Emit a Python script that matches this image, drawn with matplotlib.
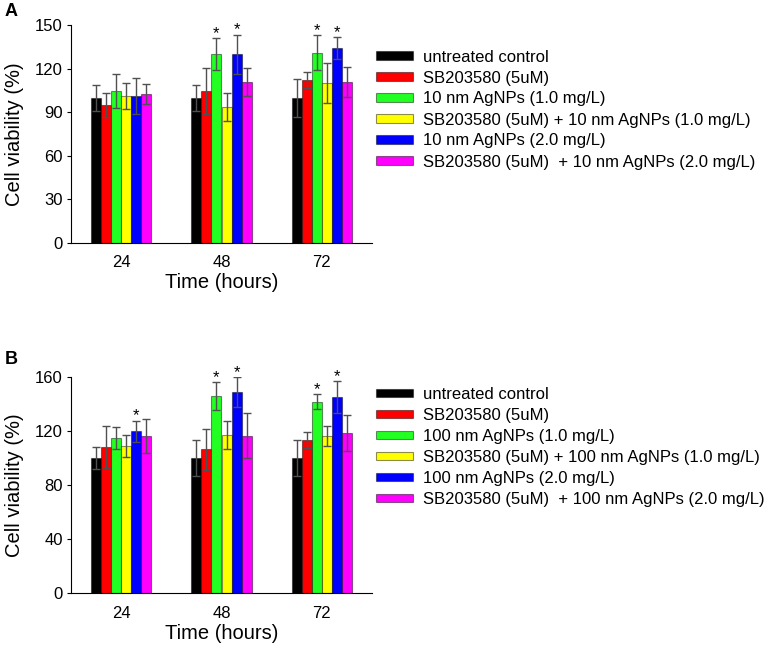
import numpy as np
import matplotlib
matplotlib.use('Agg')
import matplotlib.pyplot as plt

plt.rcParams['font.family'] = ['Liberation Sans', 'DejaVu Sans']

# x categories
hours = ['24', '48', '72']
colors = ['#000000', '#ff0000', '#22ff22', '#ffff00', '#0000ff', '#ff00ff']

# panel A: 10 nm AgNPs
labels_a = ['untreated control', 'SB203580 (5uM)', '10 nm AgNPs (1.0 mg/L)',
            'SB203580 (5uM) + 10 nm AgNPs (1.0 mg/L)', '10 nm AgNPs (2.0 mg/L)',
            'SB203580 (5uM)  + 10 nm AgNPs (2.0 mg/L)']
means_a = [[100, 100, 100],
           [95, 104.7, 112],
           [104.7, 130, 131],
           [101.5, 93.6, 110.2],
           [101.5, 130, 134.3],
           [102.4, 110.7, 110.9]]
errs_a = [[9, 9, 13],
          [8.3, 16, 5.6],
          [11.5, 11, 12],
          [9, 9.5, 14],
          [12.4, 13.6, 7.4],
          [7, 9.5, 10.6]]
stars_a = [(1, 2), (1, 4), (2, 2), (2, 4)]  # (time index, series index)

# panel B: 100 nm AgNPs
labels_b = ['untreated control', 'SB203580 (5uM)', '100 nm AgNPs (1.0 mg/L)',
            'SB203580 (5uM) + 100 nm AgNPs (1.0 mg/L)', '100 nm AgNPs (2.0 mg/L)',
            'SB203580 (5uM)  + 100 nm AgNPs (2.0 mg/L)']
means_b = [[100, 100, 100],
           [108, 106.3, 113.2],
           [114.5, 145.7, 141.5],
           [109, 116.7, 116.2],
           [119.6, 148.9, 145.2],
           [116.2, 116.4, 118.4]]
errs_b = [[8, 13, 13.5],
          [15.5, 15, 5.7],
          [8, 10.5, 5.5],
          [8, 10.3, 7.6],
          [8, 11, 11.8],
          [12.8, 16.5, 13]]
stars_b = [(0, 4), (1, 2), (1, 4), (2, 2), (2, 4)]

W, H = 767, 647
fig = plt.figure(figsize=(W / 100, H / 100), dpi=100)


def panel(rect, letter, letter_y, labels, means, errs, stars, ymax, yticks, leg_top):
    ax = fig.add_axes(rect)
    x = np.arange(len(hours))
    width = 0.1
    handles = []
    for i in range(len(means)):
        pos = x + (i - 2.5) * width
        b = ax.bar(pos, means[i], width, color=colors[i], edgecolor=(0, 0, 0, 0.45),
                   linewidth=0.8, label=labels[i], zorder=2)
        ax.errorbar(pos, means[i], yerr=errs[i], fmt='none', ecolor='#505050',
                    elinewidth=1, capsize=2.6, capthick=1, zorder=3)
        handles.append(b)
    for g, s in stars:
        ax.annotate('*', (x[g] + (s - 2.5) * width, means[s][g] + errs[s][g]),
                    xytext=(0, 0), textcoords='offset points', ha='center', va='baseline',
                    fontsize=12)
    ax.set_xlim(-0.5, 2.5)
    ax.set_ylim(0, ymax)
    ax.set_yticks(yticks)
    ax.set_xticks(x)
    ax.set_xticklabels(hours)
    ax.spines['top'].set_visible(False)
    ax.spines['right'].set_visible(False)
    ax.tick_params(axis='x', length=0, pad=9, labelsize=12)
    ax.tick_params(axis='y', direction='out', length=3, pad=3, labelsize=12)
    ax.set_xlabel('Time (hours)', fontsize=14.5, labelpad=2)
    ax.set_ylabel('Cell viability (%)', fontsize=14.5, labelpad=8)
    ax.legend(handles=handles, loc='upper left', frameon=False, fontsize=12,
              bbox_to_anchor=(375.7 / W, 1 - leg_top / H), bbox_transform=fig.transFigure,
              borderpad=0, borderaxespad=0, handlelength=2.26, handleheight=0.42,
              handletextpad=0.58, labelspacing=0.36)
    fig.text(5 / W, 1 - letter_y / H, letter,
             fontsize=13, fontweight='bold', va='center', ha='left')
    return ax


panel([71 / W, 1 - 242.7 / H, 301 / W, 217.4 / H], 'A', 11, labels_a, means_a, errs_a, stars_a,
      150, [0, 30, 60, 90, 120, 150], 49.5)
panel([71 / W, 1 - 593.3 / H, 301 / W, 216.6 / H], 'B', 360, labels_b, means_b, errs_b, stars_b,
      160, [0, 40, 80, 120, 160], 387)

fig.savefig('out.png', dpi=100)
